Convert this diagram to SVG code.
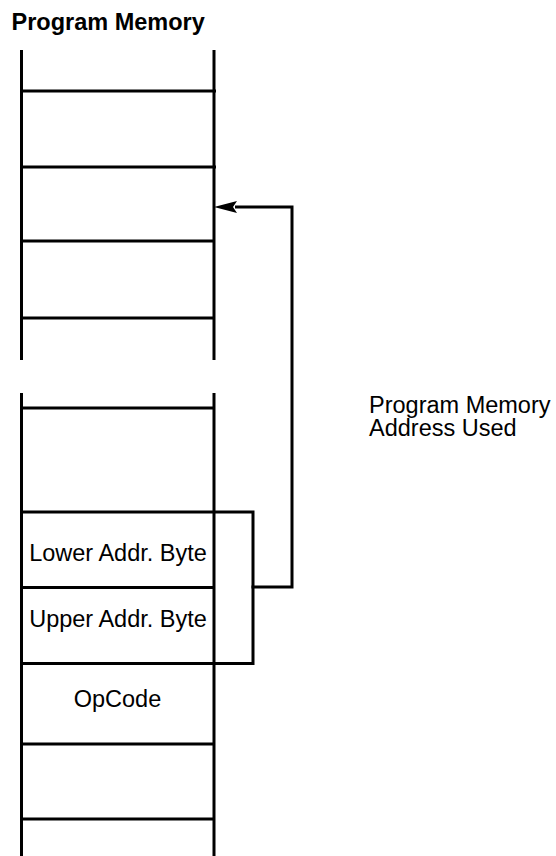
<svg xmlns="http://www.w3.org/2000/svg" width="556" height="856" viewBox="0 0 556 856">
<style>
.ln{stroke:#000;stroke-width:3;fill:none}
.t{font-family:"Liberation Sans",Arial,sans-serif;font-size:23.5px;fill:#000}
.tc{text-anchor:middle}
.b{font-weight:bold}
</style>
<defs>
<marker id="ah" markerWidth="24" markerHeight="14" refX="2" refY="7" orient="auto" markerUnits="userSpaceOnUse" overflow="visible">
<path d="M23,7 L0,1 L4,7 L0,13 Z" fill="#000"/>
</marker>
</defs>
<rect width="556" height="856" fill="#fff"/>
<text class="t b" x="11.5" y="30">Program Memory</text>
<g id="memory-top">
<path class="ln" d="M21.5,50 V360 M214,50 V360"/>
<path class="ln" d="M21.5,91 H216 M21.5,167 H216 M21.5,241 H214 M21.5,318 H214"/>
</g>
<g id="memory-bottom">
<path class="ln" d="M21.5,393 V856 M214,393 V856"/>
<path class="ln" d="M21.5,408 H214 M21.5,744 H214 M21.5,819 H214"/>
</g>
<g id="lower-addr">
<path class="ln" d="M21.5,512 H214"/>
<text class="t tc" x="118" y="560.5">Lower Addr. Byte</text>
</g>
<g id="upper-addr">
<path class="ln" d="M21.5,587.5 H214"/>
<text class="t tc" x="118" y="627">Upper Addr. Byte</text>
</g>
<g id="opcode">
<path class="ln" d="M21.5,663.5 H214"/>
<text class="t tc" x="117.5" y="707">OpCode</text>
</g>
<g id="label">
<text class="t" x="369" y="413">Program Memory</text>
<text class="t" x="369" y="435.5">Address Used</text>
</g>
<g id="connectors">
<path class="ln" d="M214,512 H253 V663.5 H214"/>
<path class="ln" d="M251.5,587 H292 V207 H235" marker-end="url(#ah)"/>
</g>
</svg>
